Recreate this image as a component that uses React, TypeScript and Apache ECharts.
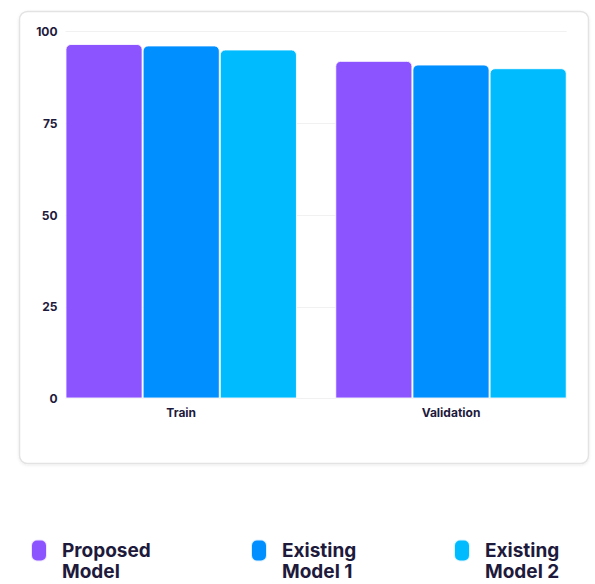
import React, { useEffect, useRef } from "react";
import * as echarts from "echarts";

const categories = ["Train", "Validation"];
const seriesNames = ["Proposed Model", "Existing Model 1", "Existing Model 2"];
const proposedModel = [96.6, 92.0];
const existingModel1 = [96.2, 91.0];
const existingModel2 = [95.1, 90.0];
const yTicks = [0, 25, 50, 75, 100];

const colors = ["#8c54ff", "#008fff", "#00bcff"];
const textColor = "#1e1a3c";
const font = "Inter, 'Noto Sans', sans-serif";

export default function App() {
  const ref = useRef<HTMLDivElement>(null);
  useEffect(() => {
    if (!ref.current) return;
    const chart = echarts.init(ref.current, undefined, { renderer: "svg" });
    const values = [proposedModel, existingModel1, existingModel2];
    const legendLefts = [30, 250, 453];
    chart.setOption({
      animation: false,
      graphic: [
        {
          type: "rect",
          z: -10,
          shape: { x: 19.5, y: 11.5, width: 569, height: 452, r: 8 },
          style: {
            fill: "#ffffff",
            stroke: "#e3e3e3",
            lineWidth: 1.5,
            shadowBlur: 3,
            shadowOffsetY: 1,
            shadowColor: "rgba(0,0,0,0.08)",
          },
        },
      ],
      grid: [
        { left: 46.3, top: 31.5, width: 539.6, height: 367 },
        { left: 65.5, top: 31.5, width: 501.2, height: 367 },
      ],
      xAxis: [
        {
          type: "category",
          gridIndex: 0,
          data: categories,
          axisLine: { show: false },
          axisTick: { show: false },
          axisLabel: {
            color: textColor,
            fontFamily: font,
            fontWeight: 700,
            fontSize: 12,
            margin: 8,
          },
        },
        { type: "value", gridIndex: 1, show: false, min: 0, max: 1 },
      ],
      yAxis: [
        { type: "value", gridIndex: 0, min: 0, max: 100, show: false },
        {
          type: "value",
          gridIndex: 1,
          min: yTicks[0],
          max: yTicks[yTicks.length - 1],
          interval: 25,
          axisLine: { show: false },
          axisTick: { show: false },
          splitLine: { lineStyle: { color: "#f1f1f1", width: 1 } },
          axisLabel: {
            color: textColor,
            fontFamily: font,
            fontWeight: 700,
            fontSize: 12,
            margin: 8,
          },
        },
      ],
      legend: seriesNames.map((name, i) => ({
        data: [name],
        left: legendLefts[i],
        top: 519,
        padding: 0,
        itemWidth: 16,
        itemHeight: 22,
        selectedMode: false,
        icon: "path://M6,0 H10 A6,6 0 0 1 16,6 V16 A6,6 0 0 1 10,22 H6 A6,6 0 0 1 0,16 V6 A6,6 0 0 1 6,0 Z",
        formatter: (n: string) => "\n" + n.replace(" ", "\n"),
        textStyle: {
          color: textColor,
          fontFamily: font,
          fontWeight: 700,
          fontSize: 19,
          lineHeight: 21,
          padding: [0, 0, 0, 10],
        },
      })),
      series: seriesNames.map((name, i) => ({
        name,
        type: "bar",
        xAxisIndex: 0,
        yAxisIndex: 0,
        data: values[i],
        barGap: "0%",
        barCategoryGap: "14.2%",
        itemStyle: {
          color: colors[i],
          borderRadius: [5, 5, 0, 0],
          borderColor: "rgba(255,255,255,0.85)",
          borderWidth: 1,
        },
      })),
    });
    return () => chart.dispose();
  }, []);
  return (
    <div
      ref={ref}
      style={{ position: "absolute", left: 0, top: 0, width: 595, height: 584 }}
    />
  );
}
